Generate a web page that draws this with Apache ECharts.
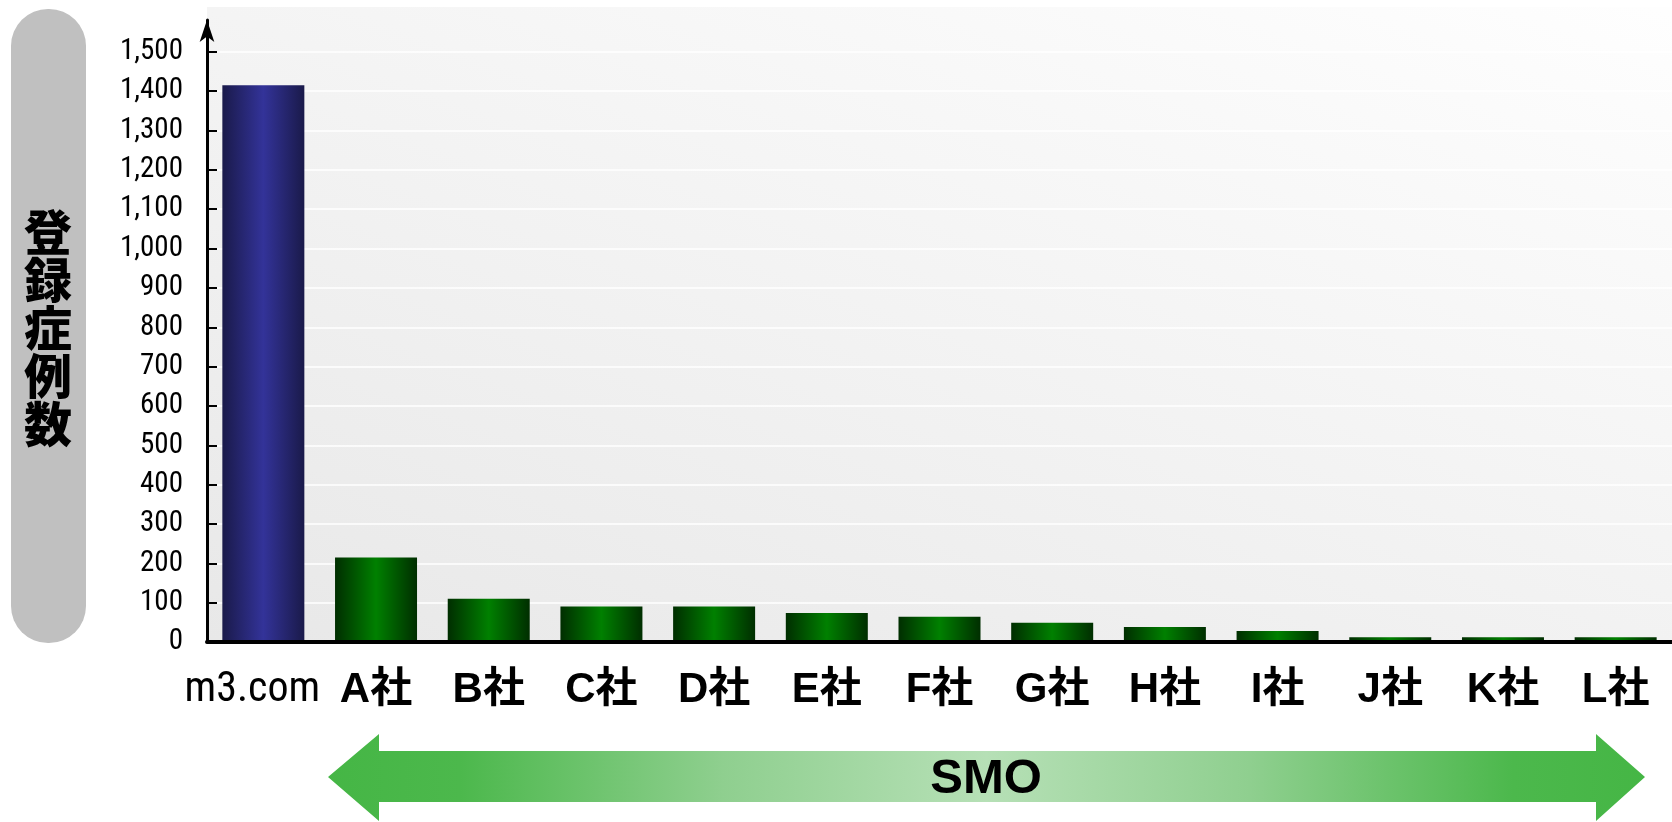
<!DOCTYPE html>
<html>
<head>
<meta charset="utf-8">
<script src="https://cdn.jsdelivr.net/npm/echarts@6/dist/echarts.min.js"></script>
<style>
  html, body { margin: 0; padding: 0; background: #fff; }
  #chart { width: 1672px; height: 822px; }
</style>
</head>
<body>
<div id="chart"></div>
<script>
// data
let categories = ["m3.com", "A社", "B社", "C社", "D社", "E社", "F社", "G社", "H社", "I社", "J社", "K社", "L社"];
let caseCounts = [1415, 215, 110, 90, 90, 74, 64, 49, 38, 28, 12, 12, 12];
let yTickValues = [0, 100, 200, 300, 400, 500, 600, 700, 800, 900, 1000, 1100, 1200, 1300, 1400, 1500];
let yTitle = "登録症例数";
let bandLabel = "SMO";

let narrowFont = '"Roboto Condensed", "Liberation Sans Narrow", "DejaVu Sans Condensed", "Noto Sans CJK JP", sans-serif';
let boldFont = '"Liberation Sans", Arial, "Noto Sans CJK JP", sans-serif';

function barGradient(edge, mid) {
    return new echarts.graphic.LinearGradient(0, 0, 1, 0, [
        { offset: 0, color: edge },
        { offset: 0.5, color: mid },
        { offset: 1, color: edge }
    ]);
}

let barData = [];
for (let i = 0; i < caseCounts.length; ++i) {
    let item = { value: caseCounts[i] };
    if (i === 0)
        item.itemStyle = { color: barGradient("#1a1a4a", "#333399") };
    else
        item.itemStyle = { color: barGradient("#002e00", "#008000") };
    barData.push(item);
}

let Chart = echarts.init(document.getElementById("chart"));

let option = {
    animation: false,
    grid: {
        left: 207,
        top: 20,
        width: 1473,
        height: 622,
        containLabel: false
    },
    xAxis: {
        type: "category",
        data: categories,
        axisLine: { lineStyle: { color: "#000", width: 4 } },
        axisTick: { show: false },
        axisLabel: {
            margin: 27,
            formatter: function (val) {
                return val === "m3.com" ? "{n|" + val + "}" : "{b|" + val + "}";
            },
            rich: {
                // m3.com sits a little left of its bar in the original
                n: { fontFamily: narrowFont, fontSize: 42, color: "#000", fontWeight: "normal", padding: [0, 22, 0, 0] },
                b: { fontFamily: boldFont, fontSize: 42, color: "#000", fontWeight: "bold" }
            }
        },
        z: 5
    },
    yAxis: {
        type: "value",
        min: 0,
        max: 1581,
        axisLine: {
            show: true,
            lineStyle: { color: "#000", width: 3 },
            symbol: ["none", "arrow"],
            symbolSize: [11, 22]
        },
        axisTick: {
            show: true,
            inside: true,
            length: 10,
            lineStyle: { color: "#000", width: 2 },
            customValues: yTickValues
        },
        axisLabel: {
            margin: 24,
            color: "#000",
            fontSize: 29,
            fontFamily: narrowFont,
            customValues: yTickValues,
            formatter: function (v) {
                return v.toLocaleString("en-US");
            }
        },
        splitLine: {
            show: true,
            lineStyle: { color: "#ffffff", width: 1.5 }
        }
    },
    series: [{
        type: "bar",
        data: barData,
        barWidth: 82
    }],
    graphic: [
        {
            // plot background, lighter towards the top right
            type: "rect",
            z: -10,
            shape: { x: 207, y: 7, width: 1465, height: 635 },
            style: {
                fill: new echarts.graphic.LinearGradient(210, 640, 581, -382, [
                    { offset: 0, color: "#e8e8e8" },
                    { offset: 1, color: "#fefefe" }
                ], true)
            }
        },
        {
            type: "rect",
            shape: { x: 11, y: 9, width: 75, height: 634, r: 37 },
            style: { fill: "#c0c0c0" }
        },
        {
            type: "text",
            x: 48,
            y: 328,
            style: {
                text: yTitle.split("").join("\n"),
                fontSize: 48,
                lineHeight: 48,
                fontWeight: 900,
                fontFamily: '"Noto Sans CJK JP", sans-serif',
                fill: "#000",
                align: "center",
                verticalAlign: "middle"
            }
        },
        {
            type: "polygon",
            shape: {
                points: [
                    [328, 777], [379, 734], [379, 751], [1596, 751], [1596, 734],
                    [1645, 777], [1596, 821], [1596, 802], [379, 802], [379, 821]
                ]
            },
            style: {
                fill: new echarts.graphic.LinearGradient(0, 0, 1, 0, [
                    { offset: 0, color: "#45b645" },
                    { offset: 0.1, color: "#4cb84c" },
                    { offset: 0.3, color: "#8fcf8f" },
                    { offset: 0.5, color: "#b6e0b6" },
                    { offset: 0.7, color: "#8fcf8f" },
                    { offset: 0.9, color: "#4cb84c" },
                    { offset: 1, color: "#45b645" }
                ])
            }
        },
        {
            type: "text",
            x: 986,
            y: 779,
            style: {
                text: bandLabel,
                fontSize: 49,
                fontWeight: "bold",
                fontFamily: boldFont,
                fill: "#000",
                align: "center",
                verticalAlign: "middle"
            }
        }
    ]
};

Chart.setOption(option);
</script>
</body>
</html>
